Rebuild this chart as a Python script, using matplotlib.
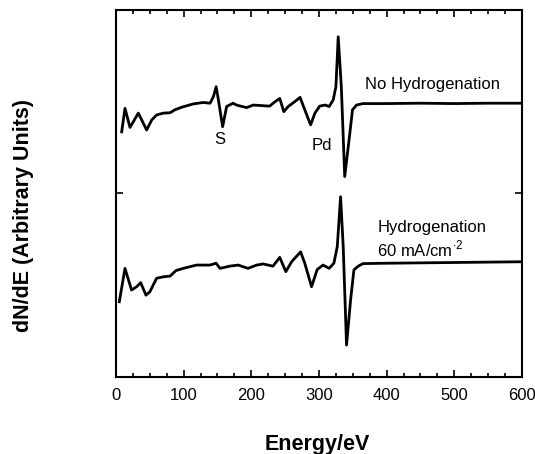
import matplotlib
matplotlib.use("Agg")
import matplotlib.pyplot as plt
from matplotlib.ticker import MultipleLocator

plt.rcParams["font.family"] = ["Liberation Sans", "DejaVu Sans"]
plt.rcParams["mathtext.fontset"] = "custom"
plt.rcParams["mathtext.rm"] = "Liberation Sans"

# Auger spectra, dN/dE in arbitrary units
energy_top = [8.4, 13.3, 20.7, 33, 45.3, 52.7, 60, 70, 80, 87, 97, 114, 129, 139, 144,
              148, 151, 157.6, 163.5, 173, 178, 193, 203, 227, 235, 242, 248, 254.5,
              264, 272, 279, 287.6, 294, 301, 309, 315, 321, 325, 328.4, 333, 338,
              345, 349.5, 355.5, 365, 400, 450, 500, 550, 600]
signal_top = [66.8, 73.2, 68.0, 71.9, 67.3, 70.0, 71.4, 71.9, 72.0, 72.8, 73.5, 74.4,
              74.8, 74.6, 76.4, 79.1, 75.9, 68.2, 73.7, 74.6, 74.1, 73.4, 74.1, 73.8,
              75.0, 75.9, 72.3, 73.7, 75.0, 76.2, 72.8, 68.7, 71.9, 73.8, 74.1, 73.7,
              75.5, 79.1, 92.7, 79.1, 54.6, 65.5, 72.8, 74.1, 74.5, 74.5, 74.6, 74.5,
              74.6, 74.6]

energy_bottom = [4.9, 13.3, 23, 30.5, 36.5, 44.3, 50, 60, 70, 80, 88.6, 99.4, 119, 139,
                 148, 153.6, 168, 180.6, 195, 208, 217.6, 232, 242, 251, 259.5, 272.8,
                 279, 289, 297.4, 306, 315, 322, 327, 331.9, 335.8, 340.7, 346.7,
                 351.6, 358, 365, 400, 450, 500, 550, 600]
signal_bottom = [20.5, 29.6, 23.7, 24.6, 25.7, 22.3, 23.2, 26.9, 27.3, 27.5, 29.0, 29.6,
                 30.5, 30.5, 31.0, 29.6, 30.2, 30.5, 29.6, 30.5, 30.8, 30.2, 32.6, 28.7,
                 31.4, 34.1, 31.0, 24.6, 29.3, 30.5, 29.6, 31.0, 35.5, 49.1, 35.5, 8.7,
                 21.0, 29.2, 30.2, 30.9, 31.0, 31.1, 31.2, 31.3, 31.4]

fig = plt.figure(figsize=(5.35, 4.54), dpi=100)
ax = fig.add_axes([0.2168, 0.1696, 0.7589, 0.8084])

ax.plot(energy_top, signal_top, color="black", lw=2.0, solid_joinstyle="round")
ax.plot(energy_bottom, signal_bottom, color="black", lw=2.0, solid_joinstyle="round")

ax.text(468, 79.6, "No Hydrogenation", fontsize=12, ha="center", va="center")
ax.text(386, 40.6, "Hydrogenation", fontsize=12, ha="left", va="center")
ax.text(386, 34.9, r"60 mA/cm$^{\cdot2}$", fontsize=12, ha="left", va="center")
ax.text(154, 64.6, "S", fontsize=12, ha="center", va="center")
ax.text(304, 63.2, "Pd", fontsize=12, ha="center", va="center")

ax.set_xlim(0, 600)
ax.set_ylim(0, 100)
ax.xaxis.set_major_locator(MultipleLocator(100))
ax.xaxis.set_minor_locator(MultipleLocator(25))
ax.set_yticks([50])
ax.set_yticklabels([])
ax.tick_params(which="both", direction="in", top=True, right=True, width=1.2)
ax.tick_params(which="major", length=5, labelsize=12, pad=8)
ax.tick_params(which="minor", length=3)
for s in ax.spines.values():
    s.set_linewidth(1.5)

fig.text(0.043, 0.526, "dN/dE (Arbitrary Units)", rotation=90, fontsize=15.5,
         fontweight="bold", ha="center", va="center")
fig.text(0.593, 0.022, "Energy/eV", fontsize=15.5, fontweight="bold",
         ha="center", va="center")

fig.savefig("out.png", dpi=100)
